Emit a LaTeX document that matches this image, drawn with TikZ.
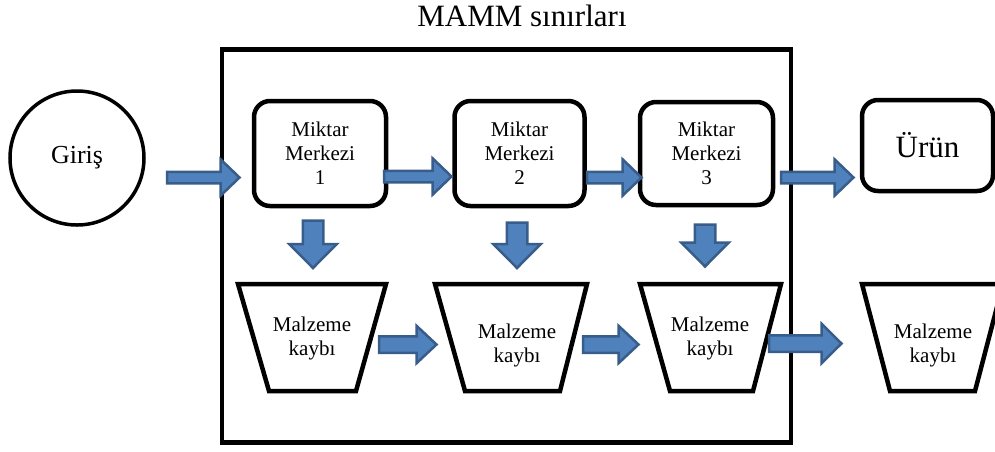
\documentclass[tikz,border=0pt]{standalone}
\usepackage{fontspec}
\setmainfont{Liberation Serif}
\usetikzlibrary{calc}

\definecolor{arrowfill}{HTML}{4F81BD}
\definecolor{arrowedge}{HTML}{385D8A}

\tikzset{
  blockarrow/.style={fill=arrowfill, draw=arrowedge, line width=2.5pt, line join=miter},
  centrebox/.style={draw, line width=4.5pt, rounded corners=16pt, inner sep=0pt,
    align=center, font=\fontsize{21}{24}\selectfont},
  lossbox/.style={draw, line width=4.5pt, line join=miter},
  losstext/.style={align=center, font=\fontsize{21}{24}\selectfont},
}

% horizontal block arrow: start, tip, shaft half-width, head half-width, head length
\newcommand\arrowright[5]{%
  \draw[blockarrow] let \p1=(#1), \p2=(#2) in
    (\x1,\y1+#3) -- (\x2-#5,\y1+#3) -- (\x2-#5,\y1+#4) -- (\x2,\y1)
    -- (\x2-#5,\y1-#4) -- (\x2-#5,\y1-#3) -- (\x1,\y1-#3) -- cycle;}
% downward block arrow: start (top), tip, shaft half-width, head half-width, head length
\newcommand\arrowdown[5]{%
  \draw[blockarrow] let \p1=(#1), \p2=(#2) in
    (\x1-#3,\y1) -- (\x1-#3,\y2+#5) -- (\x1-#4,\y2+#5) -- (\x1,\y2)
    -- (\x1+#4,\y2+#5) -- (\x1+#3,\y2+#5) -- (\x1+#3,\y1) -- cycle;}

\begin{document}
\begin{tikzpicture}[x=1pt, y=-1pt]
  \useasboundingbox (0,0) rectangle (995,451);

  % system boundary
  \node[font=\fontsize{31}{36}\selectfont, anchor=base] (title) at (522,26) {MAMM sınırları};
  \draw[line width=4.5pt] (222,49.5) rectangle (791,442.5);

  % input and product
  \node[circle, draw, line width=3.5pt, minimum size=134pt, inner sep=0pt,
        font=\fontsize{26}{30}\selectfont] (giris) at (77,158) {Giriş};
  \node[centrebox, minimum width=131pt, minimum height=91pt,
        font=\fontsize{31}{36}\selectfont] (urun) at (927.5,145.5) {Ürün};

  % quantity centres
  \node[centrebox, minimum width=132pt, minimum height=105pt] (mm1) at (320,153.5) {Miktar\\Merkezi\\1};
  \node[centrebox, minimum width=130pt, minimum height=105pt] (mm2) at (519.5,153.5) {Miktar\\Merkezi\\2};
  \node[centrebox, minimum width=133pt, minimum height=103pt] (mm3) at (706.5,153.5) {Miktar\\Merkezi\\3};

  % material loss containers
  \draw[lossbox] (238,284) -- (386,284) -- (356,391) -- (269,391) -- cycle;
  \draw[lossbox] (435,284) -- (587,284) -- (560,391) -- (465,391) -- cycle;
  \draw[lossbox] (640,284) -- (781,284) -- (753,391) -- (670,391) -- cycle;
  \draw[lossbox] (862,284) -- (1003,284) -- (975,391) -- (890,391) -- cycle;
  \node[losstext] (loss1) at (312,338) {Malzeme\\kaybı};
  \node[losstext] (loss2) at (517,345) {Malzeme\\kaybı};
  \node[losstext] (loss3) at (710,338) {Malzeme\\kaybı};
  \node[losstext] (loss4) at (933,345) {Malzeme\\kaybı};

  % arrow end points
  \coordinate (a0s) at (167,177.5);  \coordinate (a0e) at (239.5,177.5);
  \coordinate (a1s) at (384,176.5);  \coordinate (a1e) at (451.5,176.5);
  \coordinate (a2s) at (587,177.5);  \coordinate (a2e) at (641.5,177.5);
  \coordinate (a3s) at (781,177.5);  \coordinate (a3e) at (853.5,177.5);

  \coordinate (d1s) at (313,220.5);  \coordinate (d1e) at (313,268);
  \coordinate (d2s) at (517,222.5);  \coordinate (d2e) at (517,268);
  \coordinate (d3s) at (705,224.5);  \coordinate (d3e) at (705,266.5);

  \coordinate (b1s) at (379,344.5);  \coordinate (b1e) at (436.5,344.5);
  \coordinate (b2s) at (583,344.5);  \coordinate (b2e) at (638.5,344.5);
  \coordinate (b3s) at (769,343.5);  \coordinate (b3e) at (841.5,343.5);

  % flows between centres
  \arrowright{a0s}{a0e}{5.75pt}{18.25pt}{19pt}
  \arrowright{a1s}{a1e}{5.75pt}{18.25pt}{19pt}
  \arrowright{a2s}{a2e}{5.75pt}{18.25pt}{19pt}
  \arrowright{a3s}{a3e}{5.75pt}{18.25pt}{19pt}

  % flows into losses
  \arrowdown{d1s}{d1e}{10.25pt}{23.75pt}{24pt}
  \arrowdown{d2s}{d2e}{10.25pt}{23.75pt}{24pt}
  \arrowdown{d3s}{d3e}{10.25pt}{23.75pt}{24pt}

  % flows between losses
  \arrowright{b1s}{b1e}{8.25pt}{18.75pt}{20pt}
  \arrowright{b2s}{b2e}{8.25pt}{18.75pt}{20pt}
  \arrowright{b3s}{b3e}{8.25pt}{19.75pt}{20pt}
\end{tikzpicture}
\end{document}
